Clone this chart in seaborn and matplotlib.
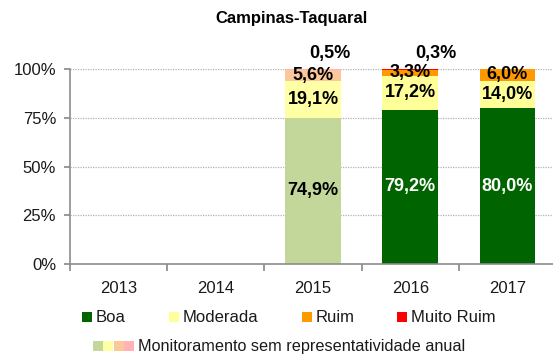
import numpy as np
import pandas as pd
import matplotlib
matplotlib.use("Agg")
import matplotlib.pyplot as plt
from matplotlib.patches import Rectangle
import seaborn as sns

years = ["2013", "2014", "2015", "2016", "2017"]
boa = [np.nan, np.nan, 74.9, 79.2, 80.0]
moderada = [np.nan, np.nan, 19.1, 17.2, 14.0]
ruim = [np.nan, np.nan, 5.6, 3.3, 6.0]
muito_ruim = [np.nan, np.nan, 0.5, 0.3, 0.0]
representativo = [False, False, False, True, True]

full_colors = {"boa": "#006400", "moderada": "#ffff99", "ruim": "#ff9900", "muito_ruim": "#ff0000"}
light_colors = {"boa": "#c4d79b", "moderada": "#ffffa6", "ruim": "#fcc89b", "muito_ruim": "#ffb3b3"}

sns.set_theme(style="white")
FONT = ["Liberation Sans", "DejaVu Sans"]
plt.rcParams["font.family"] = FONT

df = pd.DataFrame({"ano": years, "boa": boa, "moderada": moderada,
                   "ruim": ruim, "muito_ruim": muito_ruim})
layers = ["boa", "moderada", "ruim", "muito_ruim"]
cum = df[layers].cumsum(axis=1)

fig = plt.figure(figsize=(5.53, 3.56), dpi=100)
ax = fig.add_axes([70 / 553, 1 - 264 / 356, 486 / 553, 195 / 356])

# stacked bars: draw cumulative totals from the top layer down
for layer in reversed(layers):
    pal = [full_colors[layer] if r else light_colors[layer] for r in representativo]
    sns.barplot(x=df["ano"], y=cum[layer], hue=df["ano"], palette=pal,
                order=years, legend=False, width=0.57, ax=ax,
                edgecolor="none", linewidth=0, saturation=1)

ax.set_ylim(0, 100)
ax.set_xlim(-0.5, 4.5)
ax.set_yticks([0, 25, 50, 75, 100])
ax.set_yticklabels(["0%", "25%", "50%", "75%", "100%"])
ax.set_xlabel("")
ax.set_ylabel("")
for y in [25, 50, 75, 100]:
    ax.axhline(y, color="#b3b3b3", linestyle=(0, (1, 1)), linewidth=0.9, zorder=0)
ax.set_axisbelow(True)
for s in ["top", "right"]:
    ax.spines[s].set_visible(False)
for s in ["left", "bottom"]:
    ax.spines[s].set_color("#8c8c8c")
    ax.spines[s].set_linewidth(1.2)
ax.tick_params(axis="y", left=True, length=4, color="#8c8c8c", labelsize=12, pad=6)
ax.set_xticks([-0.5, 0.5, 1.5, 2.5, 3.5, 4.5], minor=False)
ax.set_xticklabels([])
ax.set_xticks(range(5), minor=True)
ax.set_xticklabels(years, minor=True)
ax.tick_params(axis="x", which="major", bottom=True, length=5, color="#8c8c8c")
ax.tick_params(axis="x", which="minor", bottom=False, labelsize=12, pad=8)
for lab in ax.get_yticklabels() + ax.get_xticklabels(minor=True):
    lab.set_color("#1a1a1a")

fmt = lambda v: f"{v:.1f}%".replace(".", ",")
lab_kw = dict(ha="center", va="center", fontsize=13, fontweight="bold")
# horizontal nudge of the "Muito Ruim" labels shown above each bar
top_label_shift = [0, 0, 0.17, 0.26, 0]
for i in range(5):
    if np.isnan(boa[i]):
        continue
    base = 0
    for layer in ["boa", "moderada", "ruim"]:
        v = df[layer][i]
        mid = base + v / 2
        color = "white" if (layer == "boa" and representativo[i]) else "black"
        ax.text(i, mid, fmt(v), color=color, **lab_kw)
        base += v
    if muito_ruim[i] > 0:
        ax.text(i + top_label_shift[i], 108.2, fmt(muito_ruim[i]), color="black",
                clip_on=False, **lab_kw)

fig.text(291 / 553, 1 - 19 / 356, "Campinas-Taquaral", ha="center", va="center",
         fontsize=12, fontweight="bold", color="black")

# legend
def square(x, y, c):
    fig.patches.append(Rectangle((x / 553, 1 - (y + 5) / 356), 10 / 553, 10 / 356,
                                 facecolor=c, edgecolor="none", transform=fig.transFigure))

row1 = [(82, "Boa", full_colors["boa"]), (169, "Moderada", full_colors["moderada"]),
        (302, "Ruim", full_colors["ruim"]), (397, "Muito Ruim", full_colors["muito_ruim"])]
for x, t, c in row1:
    square(x, 317, c)
    fig.text((x + 14) / 553, 1 - 318 / 356, t, ha="left", va="center", fontsize=12, color="#1a1a1a")
for k, layer in enumerate(layers):
    square(93 + k * 10.3, 346, light_colors[layer])
fig.text(138 / 553, 1 - 347 / 356, "Monitoramento sem representatividade anual",
         ha="left", va="center", fontsize=11.7, color="#1a1a1a")

fig.savefig("out.png", dpi=100)
